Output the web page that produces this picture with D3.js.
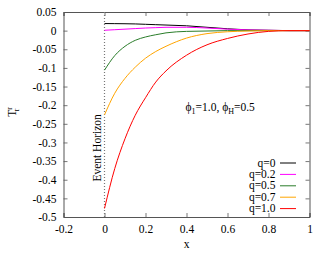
<!DOCTYPE html>
<html>
<head>
<meta charset="utf-8">
<script src="https://cdn.jsdelivr.net/npm/d3@7"></script>
<style>
  body { margin: 0; background: #fff; }
  text { font-family: "Liberation Serif", "DejaVu Serif", serif; }
</style>
</head>
<body>
<svg id="svgx" width="330" height="254"></svg>
<script>
// sample positions (x) and T^r_r values
const xs      = [0, 0.05, 0.1, 0.15, 0.2, 0.25, 0.3, 0.4, 0.5, 0.6, 0.7, 0.8, 0.9, 1.0];
const q0      = [0.019, 0.0188, 0.0185, 0.018, 0.017, 0.016, 0.015, 0.013, 0.009, 0.005, 0.002, 0.001, 0, 0];
const q02     = [0.001, 0.0025, 0.004, 0.0055, 0.007, 0.008, 0.009, 0.009, 0.007, 0.004, 0.002, 0.001, 0, 0];
const q05     = [-0.106, -0.067, -0.042, -0.026, -0.017, -0.011, -0.006, -0.002, -0.001, 0, 0, 0, 0, 0];
const q07     = [-0.226, -0.168, -0.128, -0.098, -0.074, -0.056, -0.042, -0.02, -0.008, -0.003, -0.001, 0, 0, 0];
const q10     = [-0.477, -0.37, -0.29, -0.227, -0.18, -0.138, -0.108, -0.066, -0.038, -0.021, -0.009, -0.002, 0, 0];
const seriesNames  = ["q=0", "q=0.2", "q=0.5", "q=0.7", "q=1.0"];
const seriesColors = ["#000000", "#ff00ff", "#2a7d2a", "#ffa500", "#ff0000"];
const xTicks = [-0.2, 0, 0.2, 0.4, 0.6, 0.8, 1];
const yTicks = [0.05, 0, -0.05, -0.1, -0.15, -0.2, -0.25, -0.3, -0.35, -0.4, -0.45, -0.5];

const allSeries = [q0, q02, q05, q07, q10];

const margin = { top: 12, right: 20.5, bottom: 37, left: 63.5 };
const W = 330, H = 254;
const innerW = W - margin.left - margin.right;
const innerH = H - margin.top - margin.bottom;
const fontsize = 11.5;
const frameColor = "#555";

const svg = d3.select("#svgx");
const g = svg.append("g").attr("transform", `translate(${margin.left},${margin.top})`);

const xScale = d3.scaleLinear().domain([-0.2, 1]).range([0, innerW]);
const yScale = d3.scaleLinear().domain([-0.5, 0.05]).range([innerH, 0]);

// ticks inward on all four sides (gnuplot mirror style), plain hyphen minus
const fmt = d => String(+d.toFixed(2));
const xAxis = d3.axisBottom(xScale).tickValues(xTicks).tickSize(-4).tickPadding(8).tickFormat(fmt);
const xAxisTop = d3.axisTop(xScale).tickValues(xTicks).tickSize(-4).tickFormat("");
const yAxis = d3.axisLeft(yScale).tickValues(yTicks).tickSize(-4).tickPadding(7).tickFormat(fmt);
const yAxisR = d3.axisRight(yScale).tickValues(yTicks).tickSize(-4).tickFormat("");

const axes = [
  g.append("g").attr("transform", `translate(0,${innerH})`).call(xAxis),
  g.append("g").call(xAxisTop),
  g.append("g").call(yAxis),
  g.append("g").attr("transform", `translate(${innerW},0)`).call(yAxisR)
];
axes.forEach(a => {
  a.attr("font-family", null);
  a.select(".domain").attr("stroke", frameColor);
  a.selectAll(".tick line").attr("stroke", frameColor).attr("stroke-width", 0.8);
  a.selectAll("text").style("font-size", fontsize).style("font-family", "Liberation Serif").attr("fill", "#000");
});

// event horizon line
g.append("line")
  .attr("x1", xScale(0)).attr("x2", xScale(0))
  .attr("y1", 0).attr("y2", innerH)
  .attr("stroke", "#777").attr("stroke-width", 1.2)
  .attr("stroke-dasharray", "1,2");

g.append("text")
  .attr("transform", `translate(${xScale(0) - 4},${yScale(-0.405)}) rotate(-90)`)
  .attr("text-anchor", "start")
  .style("font-size", fontsize)
  .text("Event Horizon");

// curves
const line = d3.line()
  .x((d, i) => xScale(xs[i]))
  .y(d => yScale(d))
  .curve(d3.curveMonotoneX);

g.selectAll(".curve")
  .data(allSeries)
  .enter()
  .append("path")
  .attr("class", "curve")
  .attr("d", d => line(d))
  .attr("fill", "none")
  .attr("stroke", (d, i) => seriesColors[i])
  .attr("stroke-width", 1);

// annotation
const ann = g.append("text")
  .attr("x", xScale(0.395))
  .attr("y", yScale(-0.215))
  .style("font-size", fontsize);
ann.append("tspan").text("\u03d5");
ann.append("tspan").attr("dy", 3).style("font-size", 8).text("1");
ann.append("tspan").attr("dy", -3).text("=1.0, \u03d5");
ann.append("tspan").attr("dy", 3).style("font-size", 8).text("H");
ann.append("tspan").attr("dy", -3).text("=0.5");

// legend
const legend = g.selectAll(".legend")
  .data(seriesNames)
  .enter()
  .append("g")
  .attr("class", "legend")
  .attr("transform", (d, i) => `translate(0,${151 + i * 11.4})`);

legend.append("text")
  .attr("x", 212)
  .attr("y", 3.5)
  .attr("text-anchor", "end")
  .style("font-size", fontsize)
  .text(d => d);

legend.append("line")
  .attr("x1", 216.5).attr("x2", 232.5)
  .attr("y1", 0).attr("y2", 0)
  .attr("stroke", (d, i) => seriesColors[i])
  .attr("stroke-width", 1);

// axis labels
g.append("text")
  .attr("x", innerW / 2 + 0)
  .attr("y", innerH + 31)
  .attr("text-anchor", "middle")
  .style("font-size", fontsize)
  .text("x");

const yl = svg.append("text")
  .attr("transform", `translate(16,${margin.top + 100}) rotate(-90)`)
  .attr("text-anchor", "middle")
  .style("font-size", fontsize);
yl.append("tspan").text("T");
yl.append("tspan").attr("dy", -4).style("font-size", 8).text("r");
yl.append("tspan").attr("dx", -4).attr("dy", 7).style("font-size", 8).text("r");
</script>
</body>
</html>
